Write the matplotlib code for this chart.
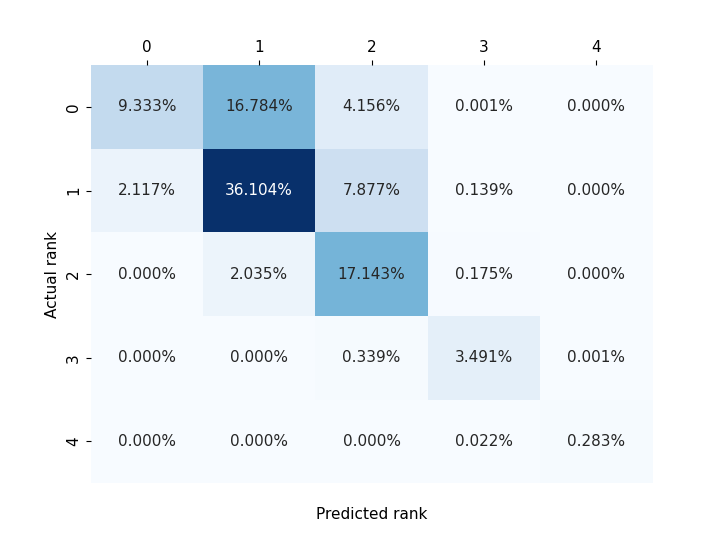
import matplotlib
matplotlib.use("Agg")
import matplotlib.pyplot as plt
import seaborn as sns
import numpy as np

labels = [0, 1, 2, 3, 4]
row0 = [9.333, 16.784, 4.156, 0.001, 0.000]
row1 = [2.117, 36.104, 7.877, 0.139, 0.000]
row2 = [0.000, 2.035, 17.143, 0.175, 0.000]
row3 = [0.000, 0.000, 0.339, 3.491, 0.001]
row4 = [0.000, 0.000, 0.000, 0.022, 0.283]

data = np.array([row0, row1, row2, row3, row4]) / 100.0

plt.rcParams['font.size'] = 11
fig, ax = plt.subplots(figsize=(7.25, 5.43), dpi=100)
sns.heatmap(data, annot=True, fmt=".3%", cmap="Blues", cbar=False,
            xticklabels=labels, yticklabels=labels, ax=ax)
ax.xaxis.tick_top()
ax.set_xlabel("Predicted rank", labelpad=17)
ax.set_ylabel("Actual rank")
fig.savefig("out.png", dpi=100)
